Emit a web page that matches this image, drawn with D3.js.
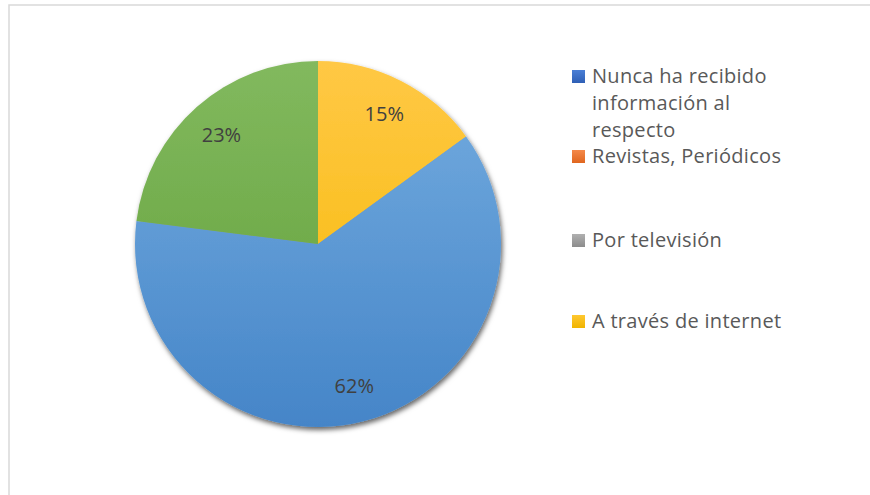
<!DOCTYPE html>
<html>
<head>
<meta charset="utf-8">
<script src="https://cdn.jsdelivr.net/npm/d3@7"></script>
<style>
  html, body { margin: 0; padding: 0; background: #fff; }
  svg { display: block; }
</style>
</head>
<body>
<svg id="chart" width="870" height="495"></svg>
<script>
// Pie slices, clockwise from 12 o'clock
const sliceNames = ["A través de internet", "Nunca ha recibido información al respecto", "Otros"];
const sliceValues = [15, 62, 23];
const sliceTops = ["#ffc845", "#75ade0", "#82b95e"];
const sliceBottoms = ["#f5b800", "#4585c8", "#609f39"];

// Legend entries
const legendLines = [
  ["Nunca ha recibido", "información al", "respecto"],
  ["Revistas, Periódicos"],
  ["Por televisión"],
  ["A través de internet"]
];
const legendTops = ["#4a7fd6", "#f4894a", "#b0b0b0", "#ffc830"];
const legendBottoms = ["#2f5fb5", "#e0661f", "#8c8c8c", "#f0b400"];
const legendBaselines = [83, 163, 247, 328];

const FONT = "'Open Sans', Lato, sans-serif";

const svg = d3.select("#chart");
const defs = svg.append("defs");

const cx = 318, cy = 244, r = 183;

// Chart frame
svg.append("rect")
  .attr("x", 9).attr("y", 5)
  .attr("width", 880).attr("height", 520)
  .attr("fill", "#fff")
  .attr("stroke", "#d9d9d9").attr("stroke-width", 1.5);

// Shadow under the pie
const shadow = defs.append("filter").attr("id", "shadow")
  .attr("x", "-20%").attr("y", "-20%").attr("width", "140%").attr("height", "140%");
shadow.append("feDropShadow")
  .attr("dx", 1.5).attr("dy", 3).attr("stdDeviation", 2.5)
  .attr("flood-color", "#000").attr("flood-opacity", 0.6);

// Vertical gradients across the pie's box
sliceTops.forEach((c, i) => {
  const g = defs.append("linearGradient").attr("id", "sg" + i)
    .attr("gradientUnits", "userSpaceOnUse")
    .attr("x1", 0).attr("y1", -r).attr("x2", 0).attr("y2", r);
  g.append("stop").attr("offset", "0%").attr("stop-color", sliceTops[i]);
  g.append("stop").attr("offset", "100%").attr("stop-color", sliceBottoms[i]);
});
legendTops.forEach((c, i) => {
  const g = defs.append("linearGradient").attr("id", "lg" + i)
    .attr("x1", 0).attr("y1", 0).attr("x2", 0).attr("y2", 1);
  g.append("stop").attr("offset", "0%").attr("stop-color", legendTops[i]);
  g.append("stop").attr("offset", "100%").attr("stop-color", legendBottoms[i]);
});

const pie = d3.pie().sort(null).value(d => d);
const arcs = pie(sliceValues);
const arc = d3.arc().innerRadius(0).outerRadius(r);
const labelArc = d3.arc().innerRadius(146).outerRadius(146);

const g = svg.append("g").attr("transform", `translate(${cx},${cy})`);

g.append("g").attr("filter", "url(#shadow)")
  .selectAll("path")
  .data(arcs)
  .join("path")
  .attr("d", arc)
  .attr("fill", (d, i) => `url(#sg${i})`);

// Percentage labels
const total = d3.sum(sliceValues);
g.selectAll("text.pct")
  .data(arcs)
  .join("text")
  .attr("class", "pct")
  .attr("transform", d => `translate(${labelArc.centroid(d)})`)
  .attr("text-anchor", "middle")
  .attr("dy", "0.36em")
  .attr("font-family", FONT)
  .attr("font-size", 20)
  .attr("fill", "#404040")
  .text(d => Math.round(d.value / total * 100) + "%");

// Legend
const lineGap = 27;
const lg = svg.append("g");
legendLines.forEach((lines, i) => {
  const base = legendBaselines[i];
  lg.append("rect")
    .attr("x", 572).attr("y", base - 13)
    .attr("width", 13).attr("height", 13)
    .attr("fill", `url(#lg${i})`);
  const t = lg.append("text")
    .attr("x", 592).attr("y", base)
    .attr("font-family", FONT)
    .attr("font-size", 20)
    .attr("letter-spacing", 0.3)
    .attr("fill", "#595959");
  lines.forEach((line, j) => {
    t.append("tspan").attr("x", 592).attr("y", base + j * lineGap).text(line);
  });
});
</script>
</body>
</html>
